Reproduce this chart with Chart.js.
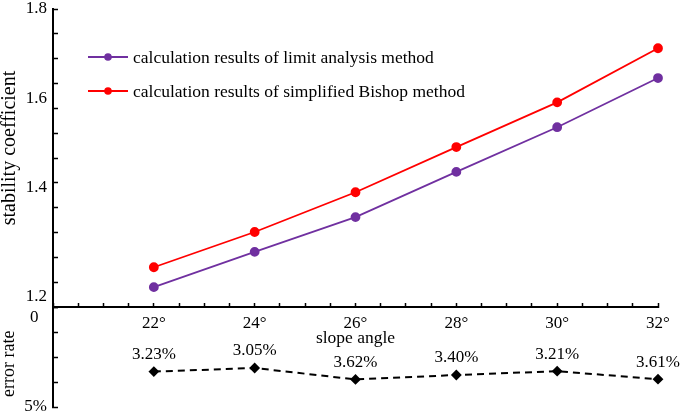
<!DOCTYPE html>
<html>
<head>
<meta charset="utf-8">
<script src="https://cdn.jsdelivr.net/npm/chart.js@4"></script>
<style>
  body { margin: 0; background: #fff; }
</style>
</head>
<body>
<canvas id="grafico" width="685" height="414"></canvas>
<script>
// Dados
const angulos = [22, 24, 26, 28, 30, 32];
const analiseLimite = [1.240, 1.311, 1.381, 1.472, 1.562, 1.661];
const bishop = [1.280, 1.351, 1.431, 1.522, 1.612, 1.721];
const taxaErro = [3.23, 3.05, 3.62, 3.40, 3.21, 3.61];
const rotulosErro = ["3.23%", "3.05%", "3.62%", "3.40%", "3.21%", "3.61%"];
const rotulosY = ["1.2", "1.4", "1.6", "1.8"];
const rotulosErroEixo = ["0", "5%"];
const legendas = [
    "calculation results of limit analysis method",
    "calculation results of simplified Bishop method"
];

const fonte = '"Liberation Serif", "Times New Roman", serif';
Chart.defaults.font.family = fonte;
Chart.defaults.color = "#000";

// Junta ângulo e valor em pares {x, y}
function pontos(valores) {
    return angulos.map((a, i) => ({ x: a, y: valores[i] }));
}

// Rótulos de erro e legenda dentro da área do gráfico
const extras = {
    id: "extras",
    afterDatasetsDraw(chart) {
        const { ctx, chartArea } = chart;
        ctx.save();
        ctx.font = "17px " + fonte;
        ctx.fillStyle = "#000";
        ctx.textAlign = "center";
        ctx.textBaseline = "middle";
        chart.getDatasetMeta(2).data.forEach((p, i) => {
            ctx.fillText(rotulosErro[i], p.x, p.y - 17);
        });

        ctx.textAlign = "left";
        ctx.font = "17.5px " + fonte;
        [0, 1].forEach((i) => {
            const ds = chart.data.datasets[i];
            const x = chartArea.left + 35;
            const y = chartArea.top + 48 + i * 34;
            ctx.strokeStyle = ds.borderColor;
            ctx.lineWidth = 1.8;
            ctx.beginPath();
            ctx.moveTo(x, y);
            ctx.lineTo(x + 40, y);
            ctx.stroke();
            ctx.fillStyle = ds.borderColor;
            ctx.beginPath();
            ctx.arc(x + 20, y, 3.8, 0, Math.PI * 2);
            ctx.fill();
            ctx.fillStyle = "#000";
            ctx.fillText(ds.label, x + 45, y + 1);
        });
        ctx.restore();
    }
};

new Chart(document.getElementById("grafico"), {
    type: "line",
    data: {
        datasets: [
            {
                label: legendas[0],
                data: pontos(analiseLimite),
                yAxisID: "y",
                borderColor: "#7030A0",
                backgroundColor: "#7030A0",
                borderWidth: 1.8,
                pointRadius: 4,
                clip: false
            },
            {
                label: legendas[1],
                data: pontos(bishop),
                yAxisID: "y",
                borderColor: "#FF0000",
                backgroundColor: "#FF0000",
                borderWidth: 1.8,
                pointRadius: 4,
                clip: false
            },
            {
                label: "error rate",
                data: pontos(taxaErro),
                yAxisID: "y2",
                borderColor: "#000",
                backgroundColor: "#000",
                borderWidth: 2,
                borderDash: [7, 5],
                pointStyle: "rectRot",
                pointRadius: 4,
                clip: false
            }
        ]
    },
    options: {
        responsive: false,
        animation: false,
        layout: { padding: { top: 9, right: 27, bottom: 7, left: 0 } },
        plugins: {
            legend: { display: false },
            tooltip: { enabled: false }
        },
        scales: {
            x: {
                type: "linear",
                position: { y: 1.2 },
                min: 20,
                max: 32,
                grid: { drawOnChartArea: false, color: "#000", tickLength: -5, tickWidth: 1.5 },
                border: { color: "#000", width: 2 },
                ticks: {
                    stepSize: 0.5,
                    autoSkip: false,
                    maxRotation: 0,
                    padding: 11,
                    font: { size: 17 },
                    callback: (v) => (angulos.includes(v) ? v + "°" : "")
                },
                title: {
                    display: true,
                    text: "slope angle",
                    font: { size: 17.5, lineHeight: 1 },
                    padding: { top: -15, bottom: 0 }
                }
            },
            y: {
                position: "left",
                stack: "esquerda",
                stackWeight: 298,
                weight: 1,
                min: 1.2,
                max: 1.8,
                grid: { drawOnChartArea: false, color: "#000", tickLength: -5, tickWidth: 1.5 },
                border: { color: "#000", width: 2 },
                ticks: {
                    stepSize: 0.05,
                    autoSkip: false,
                    padding: 11,
                    font: { size: 17 },
                    callback: (v) => {
                        const r = rotulosY.find((t) => Math.abs(Number(t) - v) < 1e-6);
                        if (!r) return "";
                        // no original os rótulos ficam um pouco acima da marca
                        if (r === "1.8") return r;
                        if (r === "1.4") return [r, "", ""];
                        return [r, ""];
                    }
                },
                title: {
                    display: true,
                    text: "    stability coefficient",
                    font: { size: 20, lineHeight: 1 },
                    padding: 0
                },
                afterFit: (s) => {
                    s.width = 53;
                    s.paddingTop = 0;
                    s.paddingBottom = 0;
                }
            },
            y2: {
                position: "left",
                stack: "esquerda",
                stackWeight: 100,
                weight: 0,
                min: 0,
                max: 5,
                reverse: true,
                grid: { drawOnChartArea: false, color: "#000", tickLength: -5, tickWidth: 1.5 },
                border: { color: "#000", width: 2 },
                ticks: {
                    stepSize: 1.25,
                    autoSkip: false,
                    padding: 11,
                    font: { size: 17 },
                    callback: (v) => {
                        if (Math.abs(v) < 1e-6) return ["", rotulosErroEixo[0] + "  "];
                        if (Math.abs(v - 5) < 1e-6) return rotulosErroEixo[1];
                        return "";
                    }
                },
                title: {
                    display: true,
                    text: "error rate   ",
                    font: { size: 18, lineHeight: 1 },
                    padding: 0
                },
                afterFit: (s) => {
                    s.width = 53;
                    s.paddingTop = 0;
                    s.paddingBottom = 0;
                }
            }
        }
    },
    plugins: [extras]
});
</script>
</body>
</html>
